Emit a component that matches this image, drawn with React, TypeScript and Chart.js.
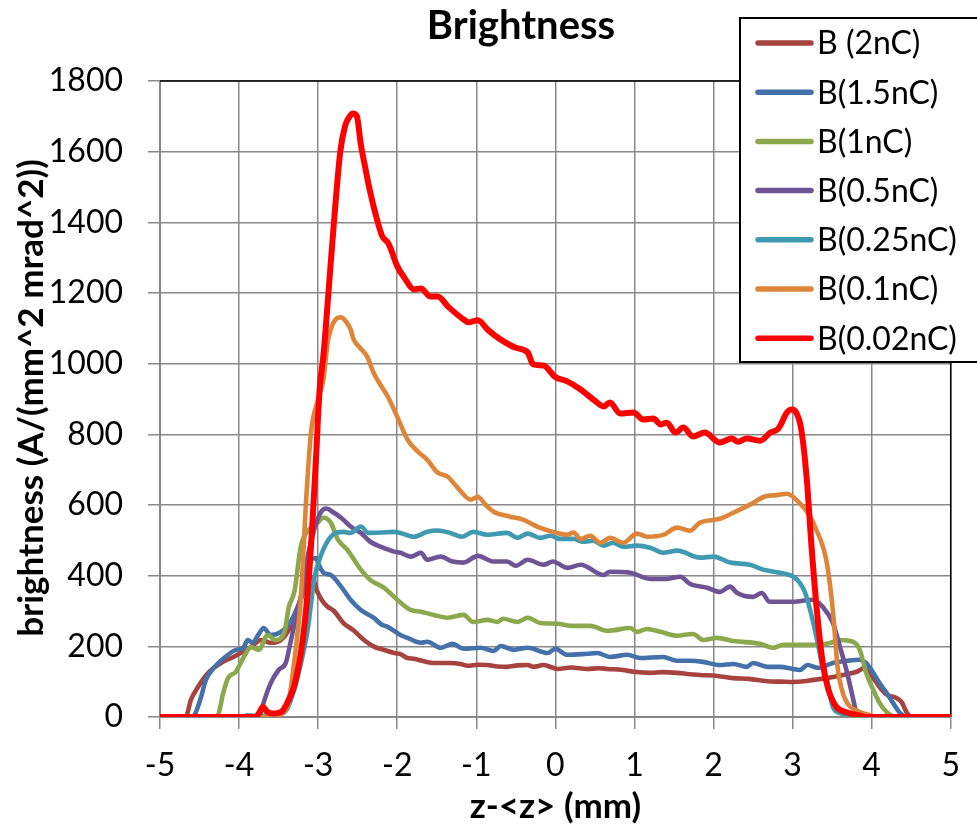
import { useEffect, useRef } from 'react';
import { Chart, registerables } from 'chart.js';

Chart.register(...registerables);

type Pt = [number, number];

// Series labels, colours and stroke widths
const seriesNames = ['B (2nC)', 'B(1.5nC)', 'B(1nC)', 'B(0.5nC)', 'B(0.25nC)', 'B(0.1nC)', 'B(0.02nC)'];
const seriesColors = ['#A6433F', '#4471A9', '#8BA94C', '#6F5495', '#3F99B1', '#DD8538', '#FF0000'];
const seriesWidths = [4.6, 4.6, 4.6, 4.6, 4.6, 4.6, 6];

// brightness vs z-<z> (mm), one list per bunch charge
const b2nC: Pt[] = [
  [-5, 0], [-4.7, 0], [-4.67, 2], [-4.61, 48], [-4.52, 85], [-4.39, 125], [-4.23, 153], [-4.07, 170],
  [-3.95, 185], [-3.85, 198], [-3.72, 218], [-3.6, 210], [-3.47, 218], [-3.35, 255], [-3.26, 303],
  [-3.18, 360], [-3.12, 390], [-3.07, 395], [-3.02, 360], [-2.95, 330], [-2.88, 312], [-2.8, 300],
  [-2.68, 266], [-2.55, 245], [-2.42, 218], [-2.3, 200], [-2.17, 190], [-2.05, 182], [-1.96, 178],
  [-1.87, 167], [-1.79, 165], [-1.65, 157], [-1.54, 153], [-1.33, 153], [-1.2, 150], [-1.11, 145],
  [-0.98, 148], [-0.86, 147], [-0.73, 143], [-0.61, 142], [-0.48, 146], [-0.35, 147], [-0.28, 142],
  [-0.15, 147], [0.03, 136], [0.2, 140], [0.4, 136], [0.55, 138], [0.66, 136], [0.85, 133], [0.99, 128],
  [1.2, 125], [1.35, 127], [1.54, 125], [1.7, 121], [1.83, 119], [2.05, 116], [2.25, 110], [2.45, 108],
  [2.68, 101], [2.85, 100], [3.0, 99], [3.15, 101], [3.26, 105], [3.43, 110], [3.64, 119], [3.81, 128],
  [3.92, 140], [4.0, 118], [4.1, 85], [4.2, 62], [4.3, 55], [4.38, 42], [4.45, 10], [4.52, 0], [5, 0],
];

const b15nC: Pt[] = [
  [-5, 0], [-4.6, 0], [-4.57, 3], [-4.48, 57], [-4.42, 105], [-4.32, 139], [-4.14, 176], [-4.04, 190],
  [-3.95, 195], [-3.89, 218], [-3.83, 210], [-3.75, 235], [-3.69, 252], [-3.6, 232], [-3.47, 241],
  [-3.35, 269], [-3.26, 312], [-3.18, 360], [-3.09, 445], [-3.03, 450], [-2.99, 430], [-2.93, 408],
  [-2.84, 402], [-2.71, 369], [-2.59, 332], [-2.46, 303], [-2.3, 281], [-2.2, 262], [-2.12, 255],
  [-1.96, 232], [-1.87, 224], [-1.7, 210], [-1.62, 213], [-1.45, 196], [-1.3, 207], [-1.16, 193],
  [-0.95, 196], [-0.78, 187], [-0.69, 201], [-0.53, 190], [-0.35, 196], [-0.1, 181], [0.0, 193],
  [0.15, 176], [0.4, 179], [0.53, 181], [0.69, 170], [0.91, 176], [1.07, 167], [1.36, 170], [1.54, 159],
  [1.7, 159], [1.87, 156], [2.08, 147], [2.25, 150], [2.42, 142], [2.5, 153], [2.68, 142], [2.84, 142],
  [3.0, 136], [3.09, 133], [3.19, 147], [3.32, 139], [3.51, 153], [3.69, 159], [3.85, 162], [3.93, 153],
  [4.02, 125], [4.1, 96], [4.19, 68], [4.27, 40], [4.36, 11], [4.45, 0], [5, 0],
];

const b1nC: Pt[] = [
  [-5, 0], [-4.3, 0], [-4.27, 3], [-4.2, 68], [-4.14, 110], [-4.04, 128], [-3.94, 170], [-3.85, 198],
  [-3.75, 190], [-3.64, 232], [-3.54, 218], [-3.43, 238], [-3.37, 312], [-3.3, 355], [-3.22, 482],
  [-3.12, 530], [-3.05, 539], [-2.93, 564], [-2.84, 550], [-2.75, 502], [-2.63, 473], [-2.46, 417],
  [-2.34, 388], [-2.17, 366], [-2.0, 332], [-1.83, 303], [-1.7, 298], [-1.54, 289], [-1.36, 281],
  [-1.16, 289], [-1.04, 269], [-0.86, 275], [-0.73, 269], [-0.66, 278], [-0.48, 269], [-0.35, 281],
  [-0.19, 266], [0.03, 264], [0.19, 258], [0.44, 258], [0.66, 244], [0.95, 252], [1.03, 241], [1.16, 249],
  [1.33, 241], [1.54, 230], [1.74, 235], [1.87, 218], [2.04, 224], [2.25, 215], [2.59, 207], [2.75, 196],
  [2.88, 204], [3.26, 204], [3.45, 208], [3.6, 218], [3.76, 213], [3.85, 190], [3.93, 125], [4.02, 77],
  [4.1, 40], [4.19, 14], [4.28, 2], [4.35, 0], [5, 0],
];

const b05nC: Pt[] = [
  [-5, 0], [-3.78, 0], [-3.72, 15], [-3.69, 40], [-3.6, 96], [-3.5, 133], [-3.41, 153], [-3.35, 210],
  [-3.28, 283], [-3.22, 340], [-3.16, 425], [-3.05, 530], [-2.97, 578], [-2.9, 590], [-2.8, 578],
  [-2.71, 564], [-2.59, 539], [-2.46, 521], [-2.34, 496], [-2.21, 482], [-2.04, 468], [-1.96, 465],
  [-1.83, 454], [-1.7, 465], [-1.62, 445], [-1.45, 454], [-1.3, 440], [-1.16, 437], [-0.98, 456],
  [-0.78, 440], [-0.61, 440], [-0.5, 428], [-0.35, 445], [-0.15, 431], [-0.03, 440], [0.15, 422],
  [0.32, 431], [0.61, 402], [0.69, 411], [0.95, 408], [1.2, 391], [1.41, 391], [1.58, 397], [1.7, 377],
  [1.92, 366], [2.08, 354], [2.21, 369], [2.3, 351], [2.5, 340], [2.61, 351], [2.71, 326], [3.0, 326],
  [3.26, 332], [3.38, 312], [3.51, 266], [3.6, 198], [3.69, 125], [3.76, 57], [3.81, 11], [3.88, 0], [5, 0],
];

const b025nC: Pt[] = [
  [-5, 0], [-3.95, 0], [-3.9, 5], [-3.8, 3], [-3.6, 5], [-3.5, 8], [-3.4, 20], [-3.3, 80], [-3.2, 170],
  [-3.13, 250], [-3.05, 390], [-2.97, 454], [-2.84, 510], [-2.68, 524], [-2.59, 521], [-2.46, 539],
  [-2.37, 521], [-2.2, 522], [-2.04, 524], [-1.96, 521], [-1.79, 510], [-1.62, 524], [-1.49, 528],
  [-1.33, 521], [-1.18, 510], [-1.04, 524], [-0.86, 516], [-0.61, 521], [-0.48, 507], [-0.35, 519],
  [-0.19, 507], [-0.06, 513], [0.06, 504], [0.23, 504], [0.35, 496], [0.48, 499], [0.61, 485], [0.73, 493],
  [0.86, 482], [1.03, 485], [1.2, 479], [1.36, 465], [1.54, 471], [1.83, 451], [2.0, 454], [2.21, 437],
  [2.46, 431], [2.63, 417], [2.84, 408], [3.01, 397], [3.09, 380], [3.16, 351], [3.22, 305], [3.31, 218],
  [3.38, 140], [3.43, 105], [3.51, 28], [3.6, 11], [3.72, 5], [3.8, 0], [5, 0],
];

const b01nC: Pt[] = [
  [-5, 0], [-3.7, 0], [-3.6, 3], [-3.47, 8], [-3.37, 48], [-3.31, 142], [-3.26, 238], [-3.22, 332],
  [-3.15, 620], [-3.09, 805], [-3.0, 900], [-2.93, 960], [-2.88, 1060], [-2.84, 1097], [-2.78, 1125],
  [-2.71, 1131], [-2.65, 1120], [-2.59, 1097], [-2.55, 1068], [-2.47, 1045], [-2.38, 1020], [-2.3, 975],
  [-2.17, 925], [-2.12, 907], [-2.0, 850], [-1.87, 785], [-1.74, 751], [-1.62, 728], [-1.49, 692],
  [-1.36, 680], [-1.24, 650], [-1.07, 615], [-0.98, 623], [-0.88, 600], [-0.78, 581], [-0.57, 567],
  [-0.4, 558], [-0.23, 539], [-0.03, 524], [0.15, 516], [0.23, 522], [0.32, 504], [0.44, 513], [0.57, 493],
  [0.69, 507], [0.86, 493], [1.03, 519], [1.16, 510], [1.37, 516], [1.54, 536], [1.7, 527], [1.83, 550],
  [2.08, 561], [2.25, 578], [2.46, 601], [2.65, 624], [2.8, 628], [2.93, 632], [3.09, 605], [3.2, 575],
  [3.3, 530], [3.43, 440], [3.51, 300], [3.57, 140], [3.62, 80], [3.69, 40], [3.85, 14], [3.98, 5],
  [4.05, 0], [5, 0],
];

const b002nC: Pt[] = [
  [-5, 0], [-3.8, 0], [-3.75, 10], [-3.7, 28], [-3.64, 14], [-3.57, 10], [-3.45, 18], [-3.37, 50],
  [-3.3, 90], [-3.2, 210], [-3.13, 360], [-3.08, 520], [-3.03, 720], [-2.98, 930], [-2.93, 1030],
  [-2.87, 1200], [-2.8, 1400], [-2.72, 1600], [-2.66, 1672], [-2.6, 1700], [-2.56, 1708], [-2.51, 1700],
  [-2.46, 1620], [-2.4, 1550], [-2.35, 1494], [-2.27, 1420], [-2.19, 1361], [-2.11, 1340], [-2.0, 1276],
  [-1.9, 1240], [-1.79, 1210], [-1.7, 1213], [-1.58, 1190], [-1.49, 1190], [-1.35, 1160], [-1.16, 1125],
  [-1.1, 1117], [-0.98, 1123], [-0.85, 1095], [-0.69, 1068], [-0.5, 1045], [-0.35, 1032], [-0.28, 998],
  [-0.15, 995], [0.0, 962], [0.15, 950], [0.32, 927], [0.5, 895], [0.61, 879], [0.69, 890], [0.82, 859],
  [0.99, 862], [1.11, 842], [1.24, 845], [1.33, 828], [1.41, 833], [1.52, 805], [1.62, 819], [1.74, 794],
  [1.89, 805], [2.08, 777], [2.23, 788], [2.31, 779], [2.42, 788], [2.59, 782], [2.72, 805], [2.82, 816],
  [2.93, 862], [2.99, 870], [3.05, 860], [3.11, 814], [3.18, 672], [3.24, 482], [3.31, 295], [3.38, 155],
  [3.45, 80], [3.55, 30], [3.7, 12], [3.85, 4], [3.95, 0], [5, 0],
];

const seriesData: Pt[][] = [b2nC, b15nC, b1nC, b05nC, b025nC, b01nC, b002nC];

// Axis ranges and texts
const xMin = -5;
const xMax = 5;
const xStep = 1;
const yMin = 0;
const yMax = 1800;
const yStep = 200;
const chartTitle = 'Brightness';
const xTitle = 'z-<z> (mm)';
const yTitle = 'brightness (A/(mm^2 mrad^2))';

const FONT = 'Lato';

// Black frame on top/right of the plot area, chart title, y-axis title and boxed legend
const decorations = {
  id: 'decorations',
  beforeDatasetsDraw(chart: Chart) {
    const { ctx, chartArea } = chart;
    ctx.save();
    ctx.strokeStyle = '#000';
    ctx.lineWidth = 1.5;
    ctx.beginPath();
    ctx.moveTo(chartArea.left, chartArea.top);
    ctx.lineTo(chartArea.right, chartArea.top);
    ctx.lineTo(chartArea.right, chartArea.bottom);
    ctx.stroke();
    ctx.restore();
  },
  afterDraw(chart: Chart) {
    const { ctx } = chart;
    ctx.save();
    // chart title
    ctx.fillStyle = '#000';
    ctx.font = `bold 40px ${FONT}`;
    ctx.textAlign = 'center';
    ctx.textBaseline = 'alphabetic';
    ctx.fillText(chartTitle, 521, 39);

    // vertical axis title
    ctx.save();
    ctx.translate(32, 398);
    ctx.rotate(-Math.PI / 2);
    ctx.font = `bold 35px ${FONT}`;
    ctx.textBaseline = 'middle';
    ctx.fillText(yTitle, 0, 0);
    ctx.restore();

    // legend box
    const bx = 740;
    const by = 18;
    const bw = 250;
    const bh = 344;
    ctx.fillStyle = '#fff';
    ctx.fillRect(bx, by, bw, bh);
    ctx.strokeStyle = '#000';
    ctx.lineWidth = 2;
    ctx.strokeRect(bx, by, bw, bh);

    ctx.font = `32px ${FONT}`;
    ctx.textAlign = 'left';
    ctx.textBaseline = 'middle';
    chart.data.datasets.forEach((ds: any, i: number) => {
      const y = 43 + i * 49.2;
      ctx.strokeStyle = ds.borderColor;
      ctx.lineWidth = 5.5;
      ctx.lineCap = 'round';
      ctx.beginPath();
      ctx.moveTo(758, y);
      ctx.lineTo(811, y);
      ctx.stroke();
      ctx.fillStyle = '#000';
      ctx.fillText(ds.label, 817, y + 1);
    });
    ctx.restore();
  },
};

export default function App() {
  const canvasRef = useRef<HTMLCanvasElement | null>(null);

  useEffect(() => {
    document.body.style.margin = '0';
    let chart: Chart | null = null;
    let cancelled = false;

    const build = () => {
      if (cancelled || !canvasRef.current) return;
      chart = new Chart(canvasRef.current, {
        type: 'line',
        data: {
          datasets: seriesData.map((pts, i) => ({
            label: seriesNames[i],
            data: pts.map(([x, y]) => ({ x, y })),
            borderColor: seriesColors[i],
            backgroundColor: seriesColors[i],
            borderWidth: seriesWidths[i],
            pointRadius: 0,
            cubicInterpolationMode: 'monotone' as const,
            borderCapStyle: 'round' as const,
            borderJoinStyle: 'round' as const,
            fill: false,
            order: seriesData.length - 1 - i,
          })),
        },
        options: {
          responsive: false,
          animation: false,
          layout: { padding: { top: 81, right: 25, left: 0, bottom: 0 } },
          plugins: {
            legend: { display: false },
            title: { display: false },
            tooltip: { enabled: false },
          },
          scales: {
            x: {
              type: 'linear',
              min: xMin,
              max: xMax,
              ticks: {
                stepSize: xStep,
                color: '#000',
                font: { family: FONT, size: 32 },
                padding: 17,
                maxRotation: 0,
                autoSkip: false,
                callback: (v: any) => String(v),
              },
              grid: { color: '#888888', lineWidth: 1.5, tickLength: 12, drawTicks: true },
              border: { color: '#888888', width: 2 },
              title: {
                display: true,
                text: xTitle,
                color: '#000',
                font: { family: FONT, size: 35, weight: 'bold' },
                padding: { top: 0, bottom: 0 },
              },
              afterFit: (s: any) => {
                s.height = 111;
              },
            },
            y: {
              type: 'linear',
              min: yMin,
              max: yMax,
              ticks: {
                stepSize: yStep,
                color: '#000',
                font: { family: FONT, size: 32 },
                padding: 25,
                callback: (v: any) => String(v),
              },
              grid: { color: '#888888', lineWidth: 1.5, tickLength: 12, drawTicks: true },
              border: { color: '#888888', width: 2 },
              title: { display: false },
              afterFit: (s: any) => {
                s.width = 160;
              },
            },
          },
        },
        plugins: [decorations],
      });
    };

    const fonts = (document as any).fonts;
    if (fonts && fonts.load) {
      Promise.all([fonts.load(`32px ${FONT}`), fonts.load(`bold 32px ${FONT}`)])
        .catch(() => undefined)
        .then(build);
    } else {
      build();
    }

    return () => {
      cancelled = true;
      if (chart) chart.destroy();
    };
  }, []);

  return (
    <div style={{ width: 977, height: 828, background: '#fff' }}>
      <canvas ref={canvasRef} width={977} height={828} style={{ display: 'block' }} />
    </div>
  );
}
